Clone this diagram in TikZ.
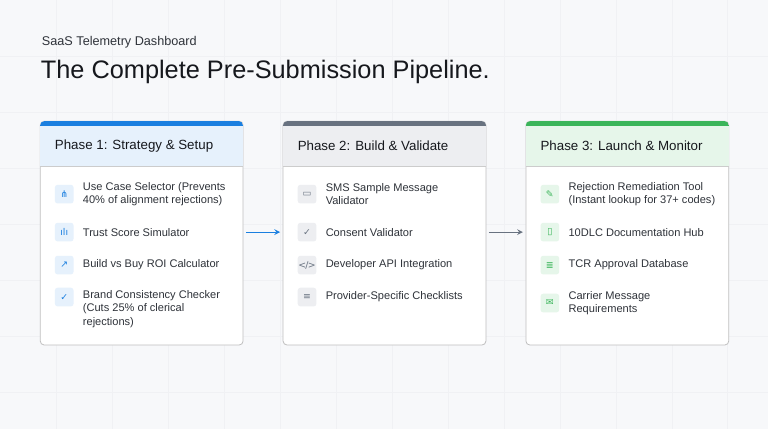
\documentclass[tikz,border=0pt]{standalone}
\usepackage{fontspec}
\setmainfont{Liberation Sans}
\newfontfamily\symfont{DejaVu Sans}
\usetikzlibrary{positioning}
\definecolor{pagebg}{HTML}{F7F8FA}
\definecolor{gridline}{HTML}{F0F1F4}
\definecolor{inkdark}{HTML}{16181D}
\definecolor{inkmid}{HTML}{2F333A}
\definecolor{phaseblue}{HTML}{1A7FE0}
\definecolor{phasegray}{HTML}{687280}
\definecolor{phasegreen}{HTML}{3BB55A}
\definecolor{headblue}{HTML}{E6F1FC}
\definecolor{headgray}{HTML}{EDEEF1}
\definecolor{headgreen}{HTML}{E6F6EA}
\begin{document}
\begin{tikzpicture}[x=0.75pt,y=-0.75pt,
  card/.style={draw=black!25,fill=white,rounded corners=3pt,line width=0.6pt},
  head/.style={font=\fontsize{10}{12}\selectfont,text=inkdark,anchor=west},
  item/.style={font=\fontsize{8.3}{10.2}\selectfont,text=inkmid,anchor=west,align=left},
  icon/.style={minimum size=14pt,inner sep=0pt,rounded corners=2pt,font=\symfont\fontsize{7}{7}\selectfont},
  flow/.style={->,line width=0.9pt,>=stealth}]

\fill[pagebg] (0,0) rectangle (768,429);
\foreach \x in {56,112,...,760} \draw[gridline,line width=0.4pt] (\x,0) -- (\x,429);
\foreach \y in {56,112,...,420} \draw[gridline,line width=0.4pt] (0,\y) -- (768,\y);
\useasboundingbox (0,0) rectangle (768,429);

\node[anchor=west,font=\fontsize{9.5}{11}\selectfont,text=inkmid] (sub) at (37,42) {SaaS Telemetry Dashboard};
\node[anchor=west,font=\fontsize{19}{22}\selectfont,text=inkdark] (title) at (36,72) {The Complete Pre-Submission Pipeline.};

% phase cards
\foreach \n/\x/\c/\h/\t in {1/40/phaseblue/headblue/Phase 1: Strategy \& Setup,
                            2/283/phasegray/headgray/Phase 2: Build \& Validate,
                            3/526/phasegreen/headgreen/Phase 3: Launch \& Monitor} {
  \draw[card] (\x,121) rectangle ++(203,224);
  \begin{scope}
    \clip[rounded corners=3pt] (\x,121) rectangle ++(203,224);
    \fill[\h] (\x,121) rectangle ++(203,45);
    \fill[\c] (\x,121) rectangle ++(203,4.5);
  \end{scope}
  \draw[black!20,line width=0.6pt] (\x,166) -- ++(203,0);
  \node[head] (h\n) at (\x+10,146) {\t};
}

% phase 1
\foreach \i/\y/\iy/\g/\t in {1/194/194/⋔/{Use Case Selector (Prevents\\40\% of alignment rejections)},
                         2/232/232/ılı/{Trust Score Simulator},
                         3/265/265/↗/{Build vs Buy ROI Calculator},
                         4/309/297/✓/{Brand Consistency Checker\\(Cuts 25\% of clerical\\rejections)}} {
  \node[icon,fill=headblue,text=phaseblue] (a\i) at (64,\iy) {\g};
  \node[item] (at\i) at (78,\y) {\t};
}
% phase 2
\foreach \i/\y/\g/\t in {1/194/▭/{SMS Sample Message\\Validator},
                         2/232/✓/{Consent Validator},
                         3/265/{\textless{}\kern-0.5pt/\kern-0.5pt\textgreater}/{Developer API Integration},
                         4/297/≡/{Provider-Specific Checklists}} {
  \node[icon,fill=headgray,text=phasegray] (b\i) at (307,\y) {\g};
  \node[item] (bt\i) at (321,\y) {\t};
}
% phase 3
\foreach \i/\y/\g/\t in {1/194/✎/{Rejection Remediation Tool\\(Instant lookup for 37+ codes)},
                         2/232/▯/{10DLC Documentation Hub},
                         3/265/≣/{TCR Approval Database},
                         4/303/✉/{Carrier Message\\Requirements}} {
  \node[icon,fill=headgreen,text=phasegreen] (c\i) at (550,\y) {\g};
  \node[item] (ct\i) at (564,\y) {\t};
}

\coordinate (p1e) at (246,232);
\coordinate (p2w) at (280,232);
\coordinate (p2e) at (489,232);
\coordinate (p3w) at (523,232);
\draw[flow,phaseblue] (p1e) -- (p2w);
\draw[flow,phasegray] (p2e) -- (p3w);
\end{tikzpicture}
\end{document}
